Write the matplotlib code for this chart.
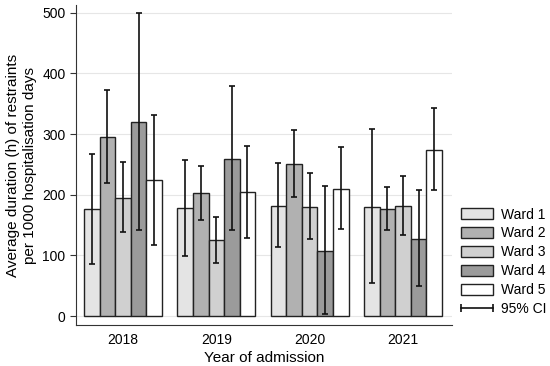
import numpy as np
import matplotlib.pyplot as plt
from matplotlib.patches import Patch
from matplotlib.lines import Line2D
from matplotlib.legend_handler import HandlerLine2D

plt.rcParams['font.family'] = ['Liberation Sans', 'DejaVu Sans']

years = ['2018', '2019', '2020', '2021']
wards = ['Ward 1', 'Ward 2', 'Ward 3', 'Ward 4', 'Ward 5']
colors = ['#e4e4e4', '#b1b1b1', '#d0d0d0', '#9b9b9b', '#ffffff']

# mean, lower CI, upper CI per ward (rows) and year (cols)
means = np.array([
    [176, 178, 182, 180],
    [295, 202, 251, 176],
    [195, 125, 180, 181],
    [320, 259, 108, 127],
    [224, 204, 210, 274],
])
lower = np.array([
    [86, 99, 113, 54],
    [219, 159, 197, 141],
    [138, 88, 127, 133],
    [141, 141, 3, 49],
    [117, 128, 143, 208],
])
upper = np.array([
    [267, 258, 252, 308],
    [372, 248, 306, 213],
    [254, 164, 235, 231],
    [499, 379, 215, 207],
    [332, 281, 279, 343],
])

fig = plt.figure(figsize=(5.5, 3.66), dpi=100)
ax = fig.add_axes([76/550, (366-325)/366, (452-76)/550, (325-5)/366])

x = np.arange(len(years))
w = 0.167
for i in range(len(wards)):
    pos = x + (i - 2) * w
    ax.bar(pos, means[i], width=w, color=colors[i], edgecolor='#222222', linewidth=1.0, zorder=2)
    ax.errorbar(pos, means[i], yerr=[means[i] - lower[i], upper[i] - means[i]],
                fmt='none', ecolor='#111111', elinewidth=1.2, capsize=2.5, capthick=1.2, zorder=3)

ax.set_xlim(-0.504, 3.526)
ax.set_ylim(-14.8, 512.7)
ax.set_yticks(np.arange(0, 501, 100))
ax.set_xticks(x)
ax.set_xticklabels(years)
ax.tick_params(axis='x', length=0, labelsize=10, pad=6)
ax.tick_params(axis='y', length=4, labelsize=10, color='#333333')
ax.yaxis.grid(True, color='#e6e6e6', linewidth=0.8, zorder=0)
ax.set_axisbelow(True)
for s in ['top', 'right']:
    ax.spines[s].set_visible(False)
ax.spines['left'].set_color('#333333')
ax.spines['bottom'].set_color('#333333')

ax.set_xlabel('Year of admission', fontsize=11, labelpad=3)
ax.set_ylabel('Average duration (h) of restraints\nper 1000 hospitalisation days', fontsize=11, labelpad=4)

handles = [Patch(facecolor=c, edgecolor='#222222', linewidth=1.0) for c in colors]
ci_line = Line2D([0], [0], color='#111111', linewidth=1.2, marker='|', markersize=6, markeredgewidth=1.2)
handles.append(ci_line)
leg = fig.legend(handles, wards + ['95% CI'], loc='upper left', bbox_to_anchor=(455/550, 1 - 202/366),
                 frameon=False, fontsize=10, handlelength=2.3, handleheight=0.85,
                 labelspacing=0.35, handletextpad=0.6, borderaxespad=0,
                 handler_map={ci_line: HandlerLine2D(numpoints=2, marker_pad=0)})

fig.savefig('out.png', dpi=100)
